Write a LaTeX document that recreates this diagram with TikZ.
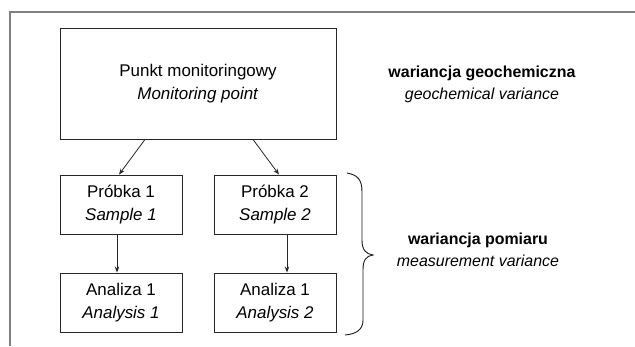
\documentclass[tikz,border=0pt]{standalone}
\usepackage{fontspec}
\setmainfont{Liberation Sans}
\usetikzlibrary{arrows.meta,calc}
\tikzset{
  box/.style={draw=black!85, line width=0.9bp, rectangle, inner sep=0pt, align=center,
    font=\fontsize{17}{23}\selectfont},
  lbl/.style={align=center, font=\fontsize{16}{22}\selectfont},
  arr/.style={draw=black!85, line width=0.8bp, -{Stealth[length=6bp,width=4.5bp]}},
  frame/.style={draw=black!50, line width=1.3bp},
  bracepath/.style={draw=black!90, line width=0.9bp}
}
\begin{document}
\begin{tikzpicture}[x=1bp,y=-1bp]
\useasboundingbox (0,0) rectangle (635,346);
% open frame
\coordinate (fbl) at (10,346);
\coordinate (ftl) at (10,12);
\coordinate (ftr) at (635,12);
\draw[frame] (fbl) -- (ftl) -- (ftr);
% boxes
\node[box, minimum width=276bp, minimum height=111bp] (mp) at (198,83.5)
  {Punkt monitoringowy\\\textit{Monitoring point}};
\node[box, minimum width=122bp, minimum height=59bp] (p1) at (121,204.5)
  {Próbka 1\\\textit{Sample 1}};
\node[box, minimum width=122bp, minimum height=59bp] (p2) at (275,204.5)
  {Próbka 2\\\textit{Sample 2}};
\node[box, minimum width=122bp, minimum height=59bp] (a1) at (121,302.5)
  {Analiza 1\\\textit{Analysis 1}};
\node[box, minimum width=122bp, minimum height=59bp] (a2) at (275,302.5)
  {Analiza 1\\\textit{Analysis 2}};
% arrows
\draw[arr] ([xshift=-53bp]mp.south) -- ([xshift=-2bp]p1.north);
\draw[arr] ([xshift=55bp]mp.south) -- ([xshift=4bp]p2.north);
\draw[arr] ([xshift=-4bp]p1.south) -- ([xshift=-4bp]a1.north);
\draw[arr] ([xshift=12bp]p2.south) -- ([xshift=12bp]a2.north);
% labels
\node[lbl] (geo) at (482,84.5) {\textbf{wariancja geochemiczna}\\\textit{geochemical variance}};
\node[lbl] (pom) at (478,250) {\textbf{wariancja pomiaru}\\\textit{measurement variance}};
% brace
\coordinate (bt) at (347,173);
\coordinate (bb) at (345,335);
\draw[bracepath] (bt) .. controls (358,175) and (362,180) .. (362,192)
  -- (362,240) .. controls (362,250) and (366,254) .. (373,255)
  .. controls (366,256) and (363,260) .. (363,270)
  -- (363,320) .. controls (363,330) and (356,334) .. (bb);
\end{tikzpicture}
\end{document}
